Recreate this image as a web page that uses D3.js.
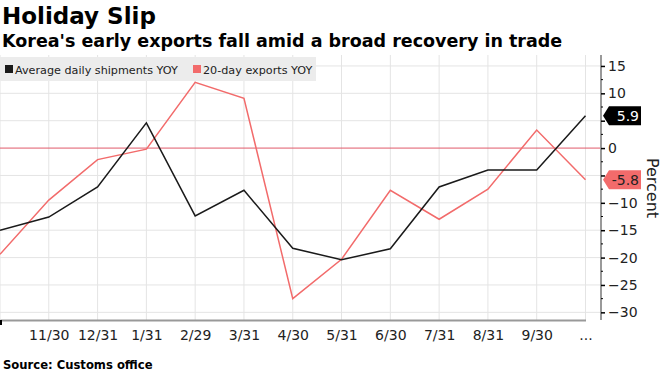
<!DOCTYPE html>
<html>
<head>
<meta charset="utf-8">
<script src="https://cdn.jsdelivr.net/npm/d3@7"></script>
<style>
  body { margin: 0; background: #fff; }
  svg { display: block; font-family: "DejaVu Sans", Verdana, sans-serif; }
</style>
</head>
<body>
<svg id="chart" width="662" height="372"></svg>
<script>
// month-end dates, first one sits on the left edge with no label
const months = ["10/31", "11/30", "12/31", "1/31", "2/29", "3/31", "4/30", "5/31", "6/30", "7/31", "8/31", "9/30", "..."];
const tickLabels = ["", "11/30", "12/31", "1/31", "2/29", "3/31", "4/30", "5/31", "6/30", "7/31", "8/31", "9/30", "..."];
const avgDaily = [-15.0, -12.6, -7.1, 4.6, -12.4, -7.7, -18.3, -20.4, -18.4, -7.1, -4.0, -4.0, 5.9];
const twentyDay = [-19.4, -9.5, -2.1, -0.2, 12.0, 9.1, -27.5, -20.3, -7.7, -13.0, -7.5, 3.3, -5.8];
const yTicks = [15, 10, 5, 0, -5, -10, -15, -20, -25, -30];

const black = "#1a1a1a";
const red = "#f26b6b";

const svg = d3.select("#chart");
const margin = { top: 55, right: 61, bottom: 52, left: 0 };
const width = 662, height = 372;
const plotRight = width - margin.right;
const plotBottom = height - margin.bottom;

const x = d3.scalePoint()
  .domain(months)
  .range([0, 585.5]);

const y = d3.scaleLinear()
  .domain([-31.4, 17])
  .range([plotBottom, margin.top]);

// titles
svg.append("text")
  .attr("x", 2).attr("y", 24)
  .text("Holiday Slip")
  .style("font-size", "23px")
  .style("font-weight", "bold")
  .attr("fill", "#000");

svg.append("text")
  .attr("x", 2).attr("y", 47)
  .text("Korea's early exports fall amid a broad recovery in trade")
  .style("font-size", "17.5px")
  .style("font-weight", "bold")
  .attr("fill", "#000");

// grid
svg.append("g")
  .selectAll("line")
  .data(yTicks.filter(d => d !== 0))
  .join("line")
  .attr("x1", 0).attr("x2", plotRight)
  .attr("y1", d => y(d)).attr("y2", d => y(d))
  .attr("stroke", "#e4e4e4");

svg.append("g")
  .selectAll("line")
  .data(months)
  .join("line")
  .attr("x1", d => x(d)).attr("x2", d => x(d))
  .attr("y1", margin.top).attr("y2", plotBottom)
  .attr("stroke", "#e4e4e4");

// legend box
const legend = svg.append("g");
legend.append("rect")
  .attr("x", 0).attr("y", 57)
  .attr("width", 316).attr("height", 24)
  .attr("fill", "#ececec");

const legendItems = [
  { name: "Average daily shipments YOY", color: black, x: 5 },
  { name: "20-day exports YOY", color: red, x: 193 }
];
legendItems.forEach(item => {
  legend.append("rect")
    .attr("x", item.x).attr("y", 65)
    .attr("width", 8).attr("height", 8)
    .attr("fill", item.color);
  legend.append("text")
    .attr("x", item.x + 10).attr("y", 74)
    .text(item.name)
    .style("font-size", "11.2px")
    .attr("fill", "#222");
});

// zero line
svg.append("line")
  .attr("x1", 0).attr("x2", plotRight)
  .attr("y1", y(0)).attr("y2", y(0))
  .attr("stroke", "#e05a6a")
  .attr("stroke-width", 1);

// lines
const line = d3.line()
  .x((d, i) => x(months[i]))
  .y(d => y(d));

svg.append("path")
  .datum(twentyDay)
  .attr("fill", "none")
  .attr("stroke", red)
  .attr("stroke-width", 1.5)
  .attr("d", line);

svg.append("path")
  .datum(avgDaily)
  .attr("fill", "none")
  .attr("stroke", black)
  .attr("stroke-width", 1.5)
  .attr("d", line);

// bottom axis
const xAxis = d3.axisBottom(x)
  .tickSize(0)
  .tickPadding(10)
  .tickFormat((d, i) => tickLabels[i]);

const xg = svg.append("g")
  .attr("transform", `translate(0,${plotBottom})`)
  .call(xAxis);
xg.select(".domain").attr("stroke", "#999").attr("stroke-width", 2);
xg.selectAll("text").style("font-size", "14px").style("font-family", "DejaVu Sans, sans-serif").attr("fill", "#222");

svg.append("line")
  .attr("x1", 1).attr("x2", 1)
  .attr("y1", plotBottom).attr("y2", plotBottom + 5)
  .attr("stroke", "#000").attr("stroke-width", 2);

// right axis; labels under the value tags are hidden as in the original
const yAxis = d3.axisRight(y)
  .tickValues(yTicks)
  .tickSize(4)
  .tickPadding(3)
  .tickFormat(d => (d === 5 || d === -5) ? "" : d3.format("d")(d));

const yg = svg.append("g")
  .attr("transform", `translate(${plotRight},0)`)
  .call(yAxis);
yg.select(".domain").attr("stroke", "#999").attr("stroke-width", 2).attr("d", `M0,${margin.top}V${plotBottom}`);
yg.selectAll(".tick line").attr("stroke", "#000").attr("stroke-width", 1.5);
yg.selectAll("text").style("font-size", "14px").style("font-family", "DejaVu Sans, sans-serif").attr("fill", "#222");

// minor ticks
svg.append("g")
  .selectAll("line")
  .data(yTicks.slice(0, -1).map(d => d - 2.5))
  .join("line")
  .attr("x1", plotRight).attr("x2", plotRight + 2)
  .attr("y1", d => y(d)).attr("y2", d => y(d))
  .attr("stroke", "#000");

svg.append("text")
  .attr("transform", `translate(647,188) rotate(90)`)
  .attr("text-anchor", "middle")
  .text("Percent")
  .style("font-size", "16px")
  .attr("fill", "#222");

// last value tags
const lastIdx = months.length - 1;
[
  { value: avgDaily[lastIdx], fill: "#000", text: "#fff" },
  { value: twentyDay[lastIdx], fill: red, text: "#222" }
].forEach(tag => {
  const cy = y(tag.value);
  const x0 = plotRight + 2;
  const w = 38, h = 19;
  svg.append("path")
    .attr("d", `M${x0},${cy} L${x0 + 6},${cy - h / 2} H${x0 + w} V${cy + h / 2} H${x0 + 6} Z`)
    .attr("fill", tag.fill);
  svg.append("text")
    .attr("x", x0 + w - 2).attr("y", cy + 5)
    .attr("text-anchor", "end")
    .text(tag.value.toFixed(1))
    .style("font-size", "14px")
    .attr("fill", tag.text);
});

// source
svg.append("text")
  .attr("x", 3).attr("y", 369)
  .text("Source: Customs office")
  .style("font-size", "11.6px")
  .style("font-weight", "bold")
  .attr("fill", "#000");
</script>
</body>
</html>
